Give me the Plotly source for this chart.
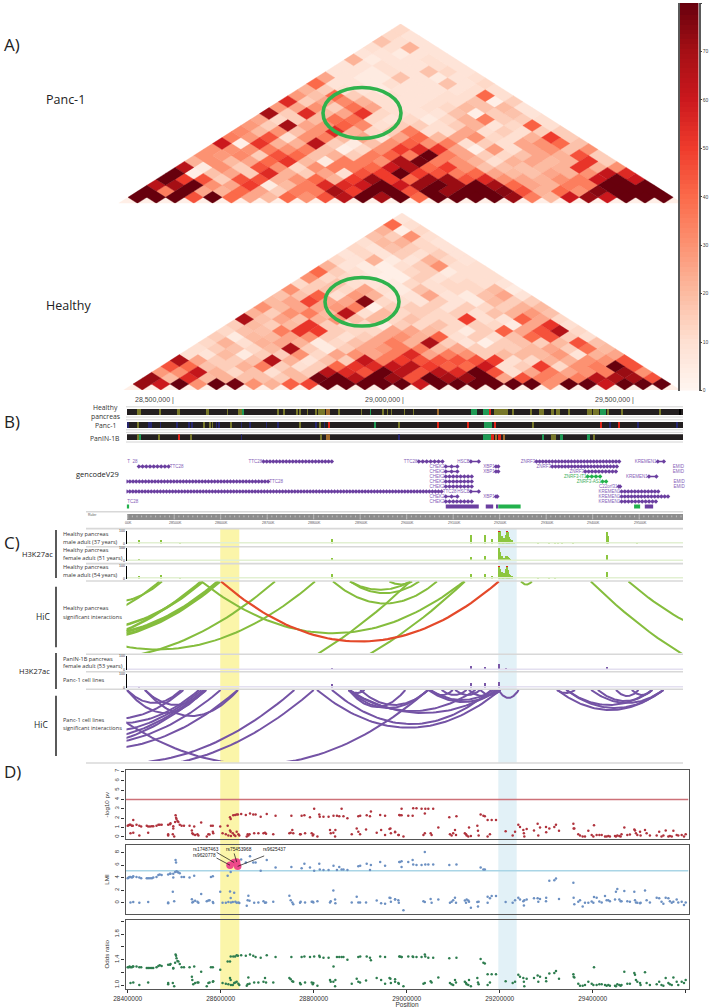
import math
import plotly.graph_objects as go
from plotly.colors import sample_colorscale

W, H = 709, 1008

# ---------- Hi-C contact values, rows from the main diagonal upwards ----------
panc_rows = [
 [80,80,80,45,80,40,25,20,40,30,45,65,80,70,80,40,80,80,80,80,72,35,20,60,72,60,80,80,80],
 [80,35,80,25,22,40,25,15,35,35,70,50,80,80,45,80,72,80,80,75,45,22,40,30,75,80,80,80],
 [65,70,80,30,25,50,5,20,35,55,55,60,80,60,72,80,72,80,70,40,25,22,35,35,80,80,80],
 [80,50,45,15,45,45,22,30,40,22,50,72,50,40,72,72,45,55,30,25,22,30,35,60,80,60],
 [80,3,18,25,15,55,22,15,25,10,45,50,80,50,45,35,40,25,20,18,25,22,30,62,55],
 [65,5,30,15,45,30,12,30,35,35,40,60,68,40,50,30,18,18,18,20,22,52,22,30],
 [22,30,20,25,40,52,20,5,35,35,30,68,78,35,30,22,10,22,25,20,22,52,15],
 [30,28,32,15,45,40,18,22,15,35,42,35,80,35,25,15,12,18,25,22,45,15],
 [30,30,30,35,30,35,18,3,12,30,50,55,52,25,3,28,10,25,30,18,30],
 [60,3,52,22,22,65,15,5,18,30,42,30,35,10,15,10,25,30,40,18],
 [35,28,45,10,30,35,20,25,8,25,40,20,25,30,12,10,22,50,15],
 [32,20,30,18,30,55,22,12,15,35,10,10,25,10,15,10,15,15],
 [28,15,70,25,30,42,32,10,15,15,10,15,22,8,12,42,10],
 [25,12,15,20,38,38,12,8,12,5,12,22,35,15,15,10],
 [70,15,55,20,25,52,12,10,8,8,18,3,15,18,8],
 [28,25,30,15,38,25,10,8,10,12,20,18,20,8],
 [55,15,25,32,22,10,8,8,10,10,18,3,15],
 [28,18,40,15,10,10,8,8,10,10,40,10],
 [22,15,10,8,5,8,8,8,8,10,10],
 [40,8,8,5,10,8,8,18,8,12],
 [25,8,5,5,18,8,5,8,10],
 [8,8,5,10,8,18,12,8],
 [8,8,10,8,8,10,8],
 [22,5,8,8,10,8],
 [8,8,5,8,8],
 [10,10,22,8],
 [18,10,8],
 [12,8],
 [12],
]
healthy_rows = [
 [72,60,80,30,80,78,30,22,42,48,80,80,80,80,80,60,80,80,80,80,80,80,30,80,80,60,80,80,80],
 [72,20,55,20,22,18,18,15,20,78,80,65,80,72,45,80,70,72,80,25,45,35,30,35,65,68,70,45],
 [28,30,62,22,12,18,10,20,15,65,55,45,80,65,45,65,55,80,45,10,25,35,25,30,35,72,30],
 [45,40,18,15,22,35,15,10,15,40,52,55,62,65,50,42,40,60,10,15,50,12,30,35,80,45],
 [68,25,15,15,18,66,22,8,18,15,62,35,50,45,45,45,45,50,10,12,22,22,30,30,45],
 [10,8,20,5,15,15,30,12,25,30,25,35,55,25,35,30,15,20,20,20,28,8,22,25],
 [10,15,18,12,20,68,15,5,15,25,28,35,35,20,25,15,15,15,20,25,15,38,20],
 [12,22,10,22,25,22,5,12,18,25,35,22,68,15,8,3,15,18,15,20,45,18],
 [15,5,20,20,25,30,15,10,15,25,30,22,42,10,15,10,18,40,45,15,10],
 [12,18,18,35,52,50,15,12,12,25,25,20,12,5,15,42,25,45,66,12],
 [15,20,15,20,52,15,12,12,5,15,12,18,12,15,12,5,25,52,10],
 [68,18,25,18,22,30,18,20,12,18,12,12,50,10,8,42,25,12],
 [22,15,30,35,20,65,10,20,12,15,12,15,10,18,22,28,18],
 [30,20,25,25,28,35,3,15,15,15,8,15,12,15,22,20],
 [20,25,48,25,25,75,12,10,8,15,8,5,20,15,15],
 [18,18,42,10,28,22,8,8,25,8,5,18,25,8],
 [30,15,18,12,25,10,5,18,10,12,12,20,5],
 [12,15,18,10,8,5,12,10,12,12,10,8],
 [30,12,12,8,3,3,15,8,10,10,10],
 [40,15,10,5,3,12,15,5,10,10],
 [22,8,5,3,10,15,30,10,10],
 [12,8,22,5,8,22,12,8],
 [8,12,8,15,10,15,8],
 [12,8,18,15,12,8],
 [10,20,22,12,8],
 [18,15,30,10],
 [22,3,12],
 [40,10],
 [8],
]
diagonal_value = 3
contact_ticks = [0, 10, 20, 30, 40, 50, 60, 70, 80]
contact_scale_levels = list(range(0, 81))

# ---------- ChromHMM state segments: (start kb, end kb) ----------
OLIVE, BLUE, RED, GREEN, ORNG = "#77772a", "#26266e", "#e02418", "#1f9a55", "#a06a2c"
healthy_state_start = [28419,28467,28504,28568,28613,28638,28642,28646,28722,28735,28763,28769,28785,28803,28810,28814,28817,28821,28826,28853,28901,28921,28948,28957,28966,28994,29013,29065,29138,29163,29177,29187,29226,29265,29284,29310,29320,29345,29387,29400,29415,29431,29460,29543,29586]
healthy_state_end   = [28428,28469,28511,28574,28614,28639,28643,28647,28723,28736,28764,28770,28786,28804,28811,28815,28818,28822,28834,28854,28902,28922,28949,28958,28967,28995,29014,29067,29150,29175,29181,29216,29228,29268,29294,29315,29328,29350,29398,29412,29428,29434,29462,29545,29588]
healthy_state_col   = [OLIVE]*7+[GREEN]+[OLIVE]*10+[ORNG]+[OLIVE]*2+[GREEN]+[OLIVE]*5+[ORNG,GREEN,GREEN,RED]+[OLIVE]*8+[OLIVE,GREEN,OLIVE,OLIVE,OLIVE]
panc_state_start = [28399,28419,28444,28449,28469,28505,28530,28537,28562,28575,28581,28589,28595,28620,28643,28662,28697,28722,28769,28803,28812,28822,28830,28930,28982,29065,29129,29166,29187,29270,29416,29435,29455,29495,29580]
panc_state_end   = [28400,28423,28445,28450,28470,28506,28531,28538,28563,28576,28582,28590,28596,28621,28644,28663,28698,28723,28770,28804,28813,28823,28834,28932,28984,29068,29132,29182,29191,29272,29419,29437,29458,29497,29582]
panc_state_col   = [BLUE,OLIVE,BLUE,BLUE,BLUE,BLUE,BLUE,BLUE,OLIVE,OLIVE,OLIVE,BLUE,BLUE,OLIVE,BLUE,BLUE,BLUE,BLUE,OLIVE,BLUE,OLIVE,BLUE,RED,GREEN,OLIVE,RED,RED,GREEN,RED,OLIVE,RED,BLUE,RED,BLUE,BLUE]
panin_state_start = [28419,28425,28466,28509,28534,28643,28814,28826,28982,29163,29182,29190,29197,29205,29290,29310,29328,29387,29400]
panin_state_end   = [28424,28428,28468,28510,28535,28644,28815,28834,28984,29182,29186,29193,29201,29211,29294,29320,29336,29393,29402]
panin_state_col   = [OLIVE,GREEN,OLIVE,RED,OLIVE,BLUE,OLIVE,ORNG,BLUE,GREEN,RED,ORNG,RED,ORNG,GREEN,OLIVE,GREEN,GREEN,OLIVE]

# ---------- Genes: row, start kb, end kb, label, label side ----------
gene_row   = [0,0,0,0,0, 1,1,1,1, 2,2,2, 3,3,3, 4,4,4, 5,5, 6,6,6, 7,7,7, 8,8]
gene_start = [28692,29026,29138,29279,29540, 28424,29084,29192,29313, 29084,29192,29384, 29084,29389,29521, 28398,29084,29421, 29084,29456, 28398,29138,29462, 29084,29192,29462, 29084,29462]
gene_end   = [28839,29077,29155,29457,29553, 28488,29109,29197,29452, 29109,29197,29450, 29140,29416,29537, 28702,29140,29429, 29140,29459, 29075,29155,29541, 29109,29195,29562, 29140,29536]
gene_name  = ["TTC28","TTC28","HSCB","ZNRF3","KREMEN1", "TTC28","CHEK2","XBP1","ZNRF3", "CHEK2","XBP1","ZNRF3", "CHEK2","ZNRF3-IT1","KREMEN1", "TTC28","CHEK2","ZNRF3-AS1", "CHEK2","C22orf31", "TTC28","HSCB","KREMEN1", "CHEK2","XBP1","KREMEN1", "CHEK2","KREMEN1"]
gene_side  = ["l","l","l","l","l", "r","l","l","l", "l","l","l", "l","l","l", "r","l","l", "l","l", "r","l","l", "l","l","l", "l","l"]
label_only_row  = [0, 8, 1, 2, 4, 5]
label_only_kb   = [28399, 28399, 29572, 29572, 29574, 29574]
label_only_text = ["T  28", "TC28", "EMID", "EMID", "EMID", "EMID"]
block_start = [28398,29084,29170,29192,29197,29489,29512]
block_end   = [28403,29155,29186,29197,29245,29502,29530]
block_col   = ["#22b14c","#6b3fa0","#6b3fa0","#6b3fa0","#22b14c","#22b14c","#6b3fa0"]
gene_green  = {"ZNRF3-IT1", "ZNRF3-AS1"}
ruler_labels = ["00K","28500K","28600K","28700K","28800K","28900K","29000K","29100K","29200K","29300K","29400K","29500K"]

# ---------- H3K27ac signal peaks: position kb, signal ----------
h1_pos = [28424,28471,28511,28839,29138,29168,29182,29197,29200,29203,29206,29209,29212,29214,29216,29219,29222,29225,29230,29281,29304,29318,29325,29333,29357,29429,29431,29494]
h1_val = [25,30,15,40,70,70,40,100,100,60,40,45,70,100,90,50,40,25,15,15,12,12,15,12,10,95,60,15]
h2_pos = [28424,28839,29138,29168,29197,29200,29203,29206,29209,29212,29214,29216,29219,29222,29281,29318,29429]
h2_val = [15,25,30,35,100,70,40,25,25,35,40,30,20,12,5,6,50]
h3_pos = [28424,28471,28511,28839,29138,29168,29182,29197,29200,29203,29206,29209,29212,29214,29216,29219,29222,29225,29281,29304,29318,29429]
h3_val = [18,30,8,35,40,40,20,100,80,50,40,45,80,100,70,40,30,20,8,8,10,55]
clip_pos = [29197,29214]
panin_pos = [28424,28511,28560,28839,28950,29138,29168,29197,29212,29300,29429]
panin_val = [5,5,4,15,4,30,25,45,15,5,25]
pancl_pos = [28424,28839,29138,29168,29197]
pancl_val = [5,25,35,30,40]

# ---------- Significant interactions: start kb, end kb, depth ----------
hic_h_start = [28271.6,28082.4,28088.8,27919,28009.3,28056.6,27938.4,28125.4,28050,27912.6,28558.6,28841.4,28878,28878,28962.8,29245.6,29396,29476.9]
hic_h_end   = [28473.7,28468.3,28561.9,28557.6,28597.8,28594,28716.7,28802.7,29125,29007.6,29123,29065,29007.6,29027,29011.8,29269.2,30471,30122]
hic_h_depth = [20.3,39,47.5,64,59,54,78,68,118,122,51.7,22,8.3,11.7,3,3,122,65]
hic_h_width = [2,2,2.5,2.5,3,3,2,2,2,2,2,2,2,2,2,2,2,2]
hic_red_start, hic_red_end, hic_red_depth = [28600.6], [29198], [60]
hic_p_start = [28398,28437,28398,28437,28232.9,28224.3,28137.2,28078,28002.9,28060.9,28050,28035,28035,28303.9,28807,28839,28875,28875,28875,28875,28877,28900,29046,29050.7,29050.7,29075,29104,29133.5,29158,29197,29323.4,29343,29343,29396.5,29411,29450,29484,29323]
hic_p_end   = [28515,28569,28564,28637,28519.7,28553,28558.6,28564,28568,28599.7,28636.7,28758.4,28800,29045.6,29201.6,29182,29197,29148,29046,28997,28909.5,29046,29197,29187,29099.4,29129,29158,29192,29201.6,29240.7,29552,29528,29552,29552,29528,29498.7,29528,29362]
hic_p_depth = [13,15,23,26,28.7,33,42,49,57,54,59,73,77,74.5,37.7,34,23,21,18,17,3,15,12,10,5,5,5,6,5,8,20,15,18,13,11,6,5,3]

# ---------- GWAS SNPs: position kb, -log10 p, LMI, odds ratio ----------
snp_kb = [
 28400,28402,28404,28406,28409,28411,28412,28419,28425,28429,28441,28444,28448,28452,28455,28462,28466,28469,28473,28487,28491,28492,28498,28498,28502,28503,28504,28505,28507,28509,28512,28516,28521,28533,28543,28579,28583,28599,28615,
 28620,28621.5,28627,28631,28634.4,28637,28644,28654,28663,28670,28675,28686,28699,28718,28752,28774,28780,28792,28801,28812,28813,28821,28832,28842.6,28850,28855,28860,28864,28872.5,28896,28900,28914,28921,28923,28943,28953.5,28984,
 28985.5,28989,28989,29003.4,29012.8,29014,29021,29032,29039,29040,29046.5,29057,29091.6,29107,29159,29165,29168,29174,29182.7,29192,
 28406,28412,28425,28444,28487,28487,28500,28497,28538,28539,28541,28545,28550,28552,28558,28570,28573.5,28576,28583,28584,28604,28611,28616.5,28620,28621.5,28622,28626,28629,28631.5,28634.4,28638,28640,28656,28658,28659.5,28662,28672,28681,28692,28695.3,28697.5,28713,28747.7,28750.5,28754,28756,28770.6,28772,28781.4,28795.7,28798,28799.3,28808,28835,28836.6,28842.3,28846,28846.6,28881.8,28892.5,28896,28899.7,28912.6,28935.5,28945,28953.5,28963,28975,28982,
 28965,28966,28975,28983,28993,29036,29039,29051.5,29053.6,29068,29093,29096.6,29100,29103.8,29106,29125,29127.5,29129,29132.5,29134,29138,29151.9,29153.3,29154.7,29174,29179,29212.8,29227.9,29233,29240,29243.6,29250.8,29252,29253,29258,29273.7,29281.6,29283,29286.7,29299.6,29300,29306.7,29317.5,29321,29327.5,29358.4,29359,29360.5,29369,29372.7,29378.4,29383.4,29390.6,29397.8,29401.4,29402.8,29408.5,29414.3,29419.3,29426.5,29430,29433.6,29437,29448,29450,29453,29457.3,29460,29462,29468,29474.5,29480,29489.5,29491,29493,29496,29501.8,29503,29512.5,29516,29523,29537.6,29543,29548,29552,29557,29562.7,29566,29570,29573.5,29580.6,29584,29591.4,29596.4,29600,
]
snp_logp = [
 1.2,1.25,1.3,1.3,1.2,1.2,1.8,1.3,1.2,1.1,1.2,1.1,1.1,1.15,1.15,1.2,1.3,1.3,1.3,1.3,1.35,1.45,1.15,0.9,1.6,2.3,2.05,1.9,1.7,1.6,1.3,1.2,1.2,1.2,1.1,1.2,1.2,1.1,1.2,
 2.1,1.9,2.3,2.35,2.4,2.4,2.45,2.35,2.5,2.4,2.4,2.15,2.45,2.25,2.25,2.25,2.3,2.1,3.0,2.4,2.15,2.15,2.15,2.25,2.25,2.2,3.0,2.2,2.0,2.2,2.25,2.3,2.2,2.7,2.35,2.25,2.35,
 2.3,2.3,3.0,2.25,2.25,3.05,3.05,3.0,2.5,3.0,3.0,3.0,2.1,2.2,2.4,2.25,2.2,1.8,1.8,1.8,
 0.4,0.45,0.15,0.45,0.15,0.3,0.05,0.3,0.7,0.4,0.3,0.2,0.3,0.15,1.55,0.05,0.3,0.25,0.55,0.4,0.4,0.3,0.15,0.7,0.55,0.1,0.4,0.2,0.1,0.55,0.3,0.15,0.05,0.3,0.15,0.3,0.4,0.4,0.4,0.45,0.35,0.3,0.4,0.45,0.75,0.4,0.3,0.3,0.4,0.4,0.15,0.25,0.05,0.75,0.4,0.45,0.05,0.75,0.3,0.9,0.55,0.3,0.8,0.45,0.75,0.2,0.85,0.5,0.2,
 0.9,0.4,0.55,0.2,0.05,0.2,0.4,0.4,0.2,1.0,0.3,0.15,0.4,0.75,0.2,0.4,0.3,0.15,0.05,1.0,0.1,1.2,0.65,0.15,0.05,0.3,0.6,0.15,0.55,1.3,1.05,0.75,0.4,0.05,0.85,0.7,1.4,0.15,1.0,1.05,0.5,0.9,1.05,1.3,0.65,1.4,0.9,0.9,0.3,0.15,0.05,0.05,0.65,0.2,0.05,1.25,0.2,0.2,0.2,0.05,0.05,0.1,0.05,0.1,0.05,0.15,0.1,0.05,0.3,1.0,0.2,0.25,0.8,0.7,0.4,0.2,0.55,0.15,0.75,0.4,0.15,0.15,0.55,0.05,0.15,0.7,0.05,0.1,0.05,0.65,0.2,0.15,0.2,0.05,0.3,
]
snp_lmi = [
 3.9,4.0,4.1,4.1,4.0,4.1,4.2,4.1,4.0,3.9,3.9,3.9,3.9,3.9,4.0,4.1,4.4,4.5,4.4,4.5,4.6,4.6,4.0,4.6,4.9,6.8,6.4,5.0,4.9,4.8,4.7,4.1,4.1,4.0,4.3,4.1,4.2,1.75,4.3,
 6.0,4.9,6.2,6.5,6.5,5.8,6.9,6.4,7.4,6.4,6.4,5.1,6.8,5.6,5.7,5.5,6.2,5.6,5.1,6.2,5.3,5.2,5.2,5.9,5.2,5.7,5.3,5.3,5.2,5.8,5.9,6.2,5.2,6.0,6.5,5.9,6.5,
 6.5,6.6,5.7,6.5,6.8,6.1,6.0,6.0,8.1,6.1,6.1,6.1,6.0,6.1,5.6,5.3,5.3,0.95,1.05,1.05,
 0.05,0.1,0,0.1,0.05,-0.1,0.25,1.75,0.55,0.05,0.15,0.3,0.15,0,1.4,0.25,0.35,0.4,0.1,-0.05,0,0,0.1,1.8,0.75,0.05,0.1,1.6,0.15,0,0.05,-0.05,-0.5,0.4,1.1,0.3,0,0.05,0.25,0,0.05,0.15,1.1,0.4,0.05,-0.25,0,0.15,0.05,0.15,0.15,0.05,0.25,0.05,0.25,1.95,0.5,-0.1,0.05,0.95,0.05,0.05,0.05,0.35,-0.1,-0.15,0.8,0.55,0.4,
 0.75,0.15,0.5,0,-1.2,0.25,0.1,0.6,0,0.5,0,0.15,0.4,0.8,0,0.35,0,0.5,0.35,0.15,-0.8,0.1,-0.6,0.15,0,0.7,0.1,0,0.4,0.8,0.5,0.25,-0.45,0.4,0.5,0.7,0.7,0.15,0.6,0.25,0.8,3.5,3.6,3.85,0.6,3.2,0.8,-0.25,0.15,0.4,-0.6,0,0,0.2,0,0.9,0.8,0.2,0.05,1.05,0.4,0.4,0.25,0.5,1.75,2.2,0.5,0.25,0.25,1.85,0.25,0.15,1.75,0.4,0.05,0,-0.1,0,1.95,0.4,0.05,0.8,0.7,0.15,-0.15,0.8,0.7,0.25,0,0.15,0.5,0.05,0.15,-0.35,0.05,
]
snp_or = [
 1.28,1.28,1.29,1.28,1.28,1.29,1.29,1.29,1.28,1.28,1.27,1.27,1.27,1.27,1.27,1.28,1.3,1.31,1.3,1.32,1.32,1.33,1.27,1.26,1.35,1.48,1.46,1.42,1.38,1.37,1.33,1.28,1.28,1.28,1.29,1.28,1.28,1.24,1.37,
 1.37,1.45,1.45,1.45,1.47,1.46,1.47,1.46,1.48,1.46,1.44,1.43,1.47,1.44,1.44,1.44,1.45,1.44,1.45,1.46,1.44,1.43,1.43,1.29,1.44,1.44,1.44,1.44,1.4,1.44,1.45,1.45,1.43,1.39,1.45,1.44,1.45,
 1.45,1.44,1.44,1.45,1.45,1.44,1.44,1.44,1.48,1.45,1.43,1.43,1.42,1.43,1.41,1.35,1.34,1.17,1.17,1.17,
 1.03,1.04,1.0,1.04,1.01,1.03,0.98,1.03,1.13,1.08,1.01,1.03,1.04,1.04,1.21,0.98,1.03,1.04,1.05,1.06,1.03,1.02,1.01,1.11,1.08,1.0,1.0,1.03,1.04,1.05,1.02,1.0,0.99,1.01,1.12,1.02,1.04,1.04,1.05,1.11,1.04,1.04,1.11,1.09,1.06,1.05,1.03,1.01,1.04,1.04,1.01,1.03,0.99,1.08,1.05,1.05,0.98,1.08,1.02,1.1,1.05,1.04,1.07,1.11,1.08,1.02,1.11,1.05,1.03,
 1.1,1.03,1.09,1.02,0.98,1.02,1.03,1.06,1.04,1.12,1.03,1.01,1.0,1.08,1.04,1.05,1.03,1.01,1.0,1.08,0.98,1.11,1.04,1.01,1.0,1.04,1.06,1.03,1.05,1.16,1.13,1.11,1.05,0.98,1.1,1.11,1.15,1.05,1.13,1.11,1.06,1.18,1.19,1.22,1.1,1.17,1.13,1.12,1.02,0.99,0.99,1.0,1.05,1.02,1.0,1.28,1.0,1.01,1.01,1.0,0.99,1.0,0.99,0.99,0.98,1.01,1.0,0.99,1.0,1.21,1.02,1.02,1.19,1.16,1.08,1.05,1.03,1.0,1.2,1.03,1.0,1.01,1.05,1.0,0.99,1.11,1.03,1.01,1.0,1.12,1.05,1.0,1.05,1.03,1.08,
]
top_kb   = [28620, 28629, 28634.4, 28636.5]
top_lmi  = [5.98, 6.4, 6.5, 5.8]
logp_threshold, lmi_threshold = 4.0, 5.08
position_ticks = [28400000, 28600000, 28800000, 29000000, 29200000, 29400000, 29600000]
position_labels = ["28400000", "28600000", "28800000", "29000000", "29200000", "29400000", ""]

# ---------- helpers ----------
REDS = ["#fff5f0","#fee0d2","#fcbba1","#fc9272","#fb6a4a","#ef3b2c","#cb181d","#a50f15","#67000d"]
SCALE = [[i / 8, c] for i, c in enumerate(REDS)]
SANS, HELV = "Open Sans", "Liberation Sans"
def bp(v): return [x * 1000 for x in v]
def dom_x(a, b): return [a / W, b / W]
def dom_y(top, bottom): return [1 - bottom / H, 1 - top / H]

fig = go.Figure()
layout = {}
PX_PER_KB = 0.465
def px2bp(px): return (28400 + (px - 127.7) / PX_PER_KB) * 1000

layout["xaxis"] = dict(domain=dom_x(126.5, 683), range=[px2bp(126.5), px2bp(683)], visible=False, fixedrange=True)

axis_id = [1]
def new_y(top, bottom, **kw):
    axis_id[0] += 1
    n = axis_id[0]
    d = dict(domain=dom_y(top, bottom), anchor="x", visible=False, fixedrange=True)
    d.update(kw)
    layout[f"yaxis{n}"] = d
    return f"y{n}"

# ---------- Hi-C triangles ----------
def triangle(rows, xname, yname, left, spacing, bottom, hh):
    n = len(rows[0])
    nx, ny = xname[1:], yname[1:]
    layout[f"xaxis{nx}"] = dict(domain=dom_x(left - spacing, left + (n + 1) * spacing),
                                range=[-1.5, n - 0.5 + 1], visible=False, fixedrange=True, anchor=yname)
    layout[f"yaxis{ny}"] = dict(domain=dom_y(bottom - hh * 30, bottom), range=[-1, 29],
                                visible=False, fixedrange=True, anchor=xname)
    all_rows = [(-1, [diagonal_value] * (n + 1))] + list(enumerate(rows))
    groups = {}
    for r, row in all_rows:
        for c, v in enumerate(row):
            cx = c + r / 2
            g = groups.setdefault(v, ([], []))
            g[0].extend([cx - 0.5, cx, cx + 0.5, cx, cx - 0.5, None])
            g[1].extend([r, r + 1, r, r - 1, r, None])
    for v in sorted(groups):
        col = sample_colorscale(SCALE, [v / 80])[0]
        fig.add_trace(go.Scatter(x=groups[v][0], y=groups[v][1], mode="lines", fill="toself",
                                 fillcolor=col, line=dict(color=col, width=0.4),
                                 xaxis=xname, yaxis=yname, hoverinfo="skip", showlegend=False))

triangle(panc_rows, "x20", "y20", 128, 18.8, 203.3, 5.98)
triangle(healthy_rows, "x21", "y21", 133, 18.55, 390, 5.9)

# colour key drawn as its own small heatmap so it keeps its exact place
layout["xaxis22"] = dict(domain=dom_x(680, 698.5), range=[-0.5, 0.5], visible=False, fixedrange=True, anchor="y22")
layout["yaxis22"] = dict(domain=dom_y(3, 390.5), range=[0, 80], side="right", anchor="x22", fixedrange=True,
                         tickvals=contact_ticks, ticks="outside", ticklen=1.5, tickwidth=0.7, tickcolor="#444",
                         tickfont=dict(size=5, color="#444", family=HELV), showline=True, mirror=True,
                         linecolor="#5a5a5a", linewidth=1.5, zeroline=False, showgrid=False)
fig.add_trace(go.Heatmap(z=[[v] for v in contact_scale_levels], y=contact_scale_levels, x=[0], zmin=0, zmax=80,
                         colorscale=SCALE, showscale=False, xaxis="x22", yaxis="y22", hoverinfo="skip"))

# ---------- chromatin state tracks ----------
def state_track(top, bottom, starts, ends, cols):
    y = new_y(top, bottom, range=[0, 1])
    fig.add_trace(go.Bar(x=[px2bp(405)], y=[1], width=[px2bp(683) - px2bp(126.5)], marker=dict(color="#231f20", line_width=0),
                         xaxis="x", yaxis=y, hoverinfo="skip", showlegend=False))
    xs = [(a + b) / 2 * 1000 for a, b in zip(starts, ends)]
    ws = [max(b - a, 1.2) * 1000 for a, b in zip(starts, ends)]
    fig.add_trace(go.Bar(x=xs, y=[1] * len(xs), width=ws, marker=dict(color=cols, line_width=0),
                         xaxis="x", yaxis=y, hoverinfo="skip", showlegend=False))
state_track(409, 415.3, healthy_state_start, healthy_state_end, healthy_state_col)
state_track(421.7, 428, panc_state_start, panc_state_end, panc_state_col)
state_track(434.3, 440.7, panin_state_start, panin_state_end, panin_state_col)

# ---------- genes ----------
yg = new_y(459, 509, range=[9.5, -0.5])
for r, a, b, name, side in zip(gene_row, gene_start, gene_end, gene_name, gene_side):
    col = "#22b14c" if name in gene_green else "#6b3fa0"
    n_marks = max(2, int((b - a) / 6.5))
    xs = [(a + (b - a) * i / (n_marks - 1)) * 1000 for i in range(n_marks)]
    fig.add_trace(go.Scatter(x=xs, y=[r] * n_marks, mode="lines+markers", line=dict(color=col, width=1.6),
                             marker=dict(symbol="diamond", size=3.4, color=col, line_width=0),
                             xaxis="x", yaxis=yg, hoverinfo="skip", showlegend=False))
    tx = (a - 2.5 if side == "l" else b + 2.5) * 1000
    fig.add_trace(go.Scatter(x=[tx], y=[r], mode="text", text=[name],
                             textposition="middle left" if side == "l" else "middle right",
                             textfont=dict(size=4.5, color="#3fae5a" if name in gene_green else "#8560b8", family=HELV),
                             xaxis="x", yaxis=yg, hoverinfo="skip", showlegend=False, cliponaxis=False))
fig.add_trace(go.Scatter(x=bp(label_only_kb), y=label_only_row, mode="text", text=label_only_text,
                         textposition="middle right", textfont=dict(size=4.5, color="#8560b8", family=HELV),
                         xaxis="x", yaxis=yg, hoverinfo="skip", showlegend=False, cliponaxis=False))
for a, b, col in zip(block_start, block_end, block_col):
    fig.add_trace(go.Scatter(x=[a * 1000, b * 1000], y=[9, 9], mode="lines", line=dict(color=col, width=4),
                             xaxis="x", yaxis=yg, hoverinfo="skip", showlegend=False))

# ---------- ruler ----------
yr = new_y(514, 520, range=[0, 1])
fig.add_trace(go.Bar(x=[px2bp(405)], y=[1], width=[px2bp(683) - px2bp(126.5)], marker=dict(color="#8c8c8c", line_width=0),
                     xaxis="x", yaxis=yr, hoverinfo="skip", showlegend=False))
tx, ty = [], []
for k in range(28400, 29600, 10):
    tx += [k * 1000, k * 1000, None]
    ty += [0.45 if k % 100 else 0.1, 0.75 if k % 100 else 0.95, None]
fig.add_trace(go.Scatter(x=tx, y=ty, mode="lines", line=dict(color="#e0e0e0", width=0.6), xaxis="x", yaxis=yr,
                         hoverinfo="skip", showlegend=False))

# ---------- H3K27ac tracks ----------
def signal_track(top, bottom, pos, val, col, band, clip=None):
    y = new_y(top, bottom, range=[0, 100], visible=True, showgrid=False, zeroline=False, showline=True,
              linecolor="#000", linewidth=0.7, ticks="inside", ticklen=2, tickwidth=0.6, tickvals=[0, 100],
              tickfont=dict(size=3.5, color="#333", family=HELV))
    fig.add_trace(go.Scatter(x=[px2bp(126.5), px2bp(683)], y=[0, 0], mode="lines", line=dict(color=band, width=3),
                             xaxis="x", yaxis=y, hoverinfo="skip", showlegend=False))
    fig.add_trace(go.Bar(x=bp(pos), y=val, width=2400, marker=dict(color=col, line_width=0), xaxis="x", yaxis=y,
                         hoverinfo="skip", showlegend=False))
    if clip:
        fig.add_trace(go.Bar(x=bp(clip), y=[8] * len(clip), base=[92] * len(clip), width=2000,
                             marker=dict(color="#e2231a", line_width=0), xaxis="x", yaxis=y,
                             hoverinfo="skip", showlegend=False))
GRN, PUR = "#8cc63f", "#7a58a8"
signal_track(531, 543.5, h1_pos, h1_val, GRN, "#e2f0d2", clip_pos)
signal_track(548, 561, h2_pos, h2_val, GRN, "#e2f0d2")
signal_track(566, 578.5, h3_pos, h3_val, GRN, "#e2f0d2", clip_pos)
signal_track(656, 670, panin_pos, panin_val, PUR, "#e3dff0")
signal_track(674, 687.5, pancl_pos, pancl_val, PUR, "#e3dff0")

# ---------- interaction arcs ----------
STEPS = [i / 60 for i in range(61)]
def arc(y, a, b, depth, col, width):
    fig.add_trace(go.Scatter(x=[(a + (b - a) * t) * 1000 for t in STEPS],
                             y=[4 * depth * t * (1 - t) for t in STEPS], mode="lines",
                             line=dict(color=col, width=width), xaxis="x", yaxis=y,
                             hoverinfo="skip", showlegend=False))
ya = new_y(581.5, 653, range=[71.5, 0])
for a, b, d, w in zip(hic_h_start, hic_h_end, hic_h_depth, hic_h_width):
    arc(ya, a, b, d, "#85bd3d", w)
for a, b, d in zip(hic_red_start, hic_red_end, hic_red_depth):
    arc(ya, a, b, d, "#e4492a", 2.2)
yb = new_y(690, 761, range=[71, 0])
for a, b, d in zip(hic_p_start, hic_p_end, hic_p_depth):
    arc(yb, a, b, d, "#7453a5", 2)

# ---------- GWAS panels ----------
GX0, GX1 = 125.5, 688.5
def gwas_axes(n, top, bottom, yrange, yticks, ylabels, title, xlabels=False):
    layout[f"xaxis{n}"] = dict(domain=dom_x(GX0, GX1), range=[px2bp(GX0), px2bp(GX1)], anchor=f"y{n}",
        showline=True, mirror=True, linecolor="#555", linewidth=1.2, showgrid=False, zeroline=False, fixedrange=True,
        ticks="outside" if xlabels else "", tickvals=position_ticks, ticktext=position_labels, ticklen=3, tickwidth=0.8,
        tickcolor="#333", showticklabels=xlabels, tickfont=dict(size=6.5, color="#333", family=HELV))
    layout[f"yaxis{n}"] = dict(domain=dom_y(top, bottom), range=yrange, anchor=f"x{n}", showline=True, mirror=True,
        linecolor="#555", linewidth=1.2, showgrid=False, zeroline=False, fixedrange=True, ticks="outside",
        tickvals=yticks, ticktext=ylabels, ticklen=3, tickwidth=0.8, tickcolor="#333", tickangle=-90,
        tickfont=dict(size=6, color="#333", family=HELV),
        title=dict(text=title, standoff=3, font=dict(size=6.2, color="#333", family=HELV)))

gwas_axes(30, 770, 839.3, [-0.25, 7.13], list(range(8)), [str(i) for i in range(8)], "-log10 pv")
gwas_axes(31, 845, 914, [-1.8, 9.2], [0, 2, 4, 6, 8], ["0", "2", "4", "6", "8"], "LMI")
gwas_axes(32, 919.7, 988.8, [0.94, 2.03], [1.0, 1.2, 1.4, 1.6, 1.8, 2.0], ["1.0", "", "1.4", "", "1.8", ""], "Odds ratio", True)
layout["xaxis32"]["title"] = dict(text="Position", standoff=1, font=dict(size=6.5, color="#333", family=HELV))

def points(n, y, col):
    fig.add_trace(go.Scatter(x=bp(snp_kb), y=y, mode="markers", marker=dict(size=2.5, color=col, line_width=0),
                             xaxis=f"x{n}", yaxis=f"y{n}", hoverinfo="skip", showlegend=False))
def hline(n, value, col):
    fig.add_trace(go.Scatter(x=[px2bp(GX0), px2bp(GX1)], y=[value, value], mode="lines", line=dict(color=col, width=1.5),
                             xaxis=f"x{n}", yaxis=f"y{n}", hoverinfo="skip", showlegend=False))
hline(30, logp_threshold, "#cd7178")
points(30, snp_logp, "#b0333d")
hline(31, lmi_threshold, "#a9d5e6")
points(31, snp_lmi, "#6c90c2")
points(32, snp_or, "#2e7d4f")
fig.add_trace(go.Scatter(x=bp(top_kb), y=top_lmi, mode="markers", marker=dict(size=7.5, color="#ee4a8b", line_width=0),
                         xaxis="x31", yaxis="y31", hoverinfo="skip", showlegend=False))

# ---------- shapes ----------
shapes = []
YEL, BLU = "#fbf5a9", "#e2f1f7"
for kb0, kb1, col in [(28599, 28640, YEL), (29197, 29236.5, BLU)]:
    for y0, y1 in [(529, 763), (769, 990)]:
        shapes.append(dict(type="rect", xref="x", yref="paper", x0=kb0 * 1000, x1=kb1 * 1000,
                           y0=1 - y1 / H, y1=1 - y0 / H, fillcolor=col, line_width=0, layer="below"))
def px_line(x0, y0, x1, y1, col, w):
    shapes.append(dict(type="line", xref="paper", yref="paper", x0=x0 / W, x1=x1 / W, y0=1 - y0 / H, y1=1 - y1 / H,
                       line=dict(color=col, width=w), layer="below"))
for y in [511.7, 528.6, 546.7, 563.6, 581, 654.3, 671.7, 689.3, 763]:
    px_line(86, y, 683, y, "#d8d8d8", 1.6)
for y0, y1 in [(530, 578), (586.7, 647.3), (653, 689), (695.7, 756)]:
    px_line(56, y0, 56, y1, "#000", 1.3)
for y in [406.8, 417, 419.8, 429.8, 432.4, 442]:
    px_line(126, y, 683, y, "#cfcfcf", 0.9)
def ellipse(x0, y0, x1, y1):
    shapes.append(dict(type="circle", xref="paper", yref="paper", x0=x0 / W, x1=x1 / W, y0=1 - y1 / H, y1=1 - y0 / H,
                       line=dict(color="#2fb24c", width=3.6), layer="above"))
ellipse(323, 87.5, 401, 138.5)
ellipse(325, 277.5, 399, 326)

# ---------- text ----------
ann = []
def text(t, x, y, size, family=SANS, color="#222", anchor="left", angle=0):
    ann.append(dict(text=t, xref="paper", yref="paper", x=x / W, y=1 - y / H, showarrow=False, xanchor=anchor,
                    yanchor="middle", align="left", font=dict(size=size, family=family, color=color), textangle=angle))
for t, y in [("A)", 45), ("B)", 421), ("C)", 542), ("D)", 771)]:
    text(t, 2, y, 17)
text("Panc-1", 44, 100, 12.5)
text("Healthy", 44, 305, 12.5)
for t, x, y in [("28,500,000 |", 133, 400), ("29,000,000 |", 363, 400), ("29,500,000 |", 593, 400)]:
    text(t, x, y, 7, HELV, "#444")
for t, y in [("Healthy", 407), ("pancreas", 416), ("Panc-1", 425), ("PanIN-1B", 438)]:
    text(t, 105, y, 6.8, SANS, "#333", "center")
text("gencodeV29", 74, 474, 7.5)
text("Ruler", 86, 515, 3.5, HELV, "#555")
for t, k in zip(ruler_labels, range(28400, 29600, 100)):
    ann.append(dict(text=t, xref="x", yref="paper", x=(k + 2) * 1000, y=1 - 523 / H, showarrow=False, xanchor="center",
                    yanchor="middle", font=dict(size=3.6, family=HELV, color="#555")))
text("H3K27ac", 20, 554, 7.5)
text("HiC", 34, 616.7, 8.5)
text("H3K27ac", 17, 670.7, 7.5)
text("HiC", 32, 724, 8.5)
for t, y in [("Healthy pancreas", 534), ("male adult (37 years)", 541.7), ("Healthy pancreas", 550), ("female adult (51 years)", 557.7),
             ("Healthy pancreas", 567.3), ("male adult (54 years)", 575), ("Healthy pancreas", 608), ("significant interactions", 616.7),
             ("PanIN-1B pancreas", 659), ("female adult (53 years)", 666), ("Panc-1 cell lines", 680),
             ("Panc-1 cell lines", 720), ("significant interactions", 728)]:
    text(t, 61, y, 5.6, SANS, "#333")
text("rs17487463", 191, 849, 4.8, HELV)
text("rs9620778", 191, 855.7, 4.8, HELV)
text("rs75453968", 224.3, 849, 4.8, HELV)
text("rs9625437", 261, 849, 4.8, HELV)
for k, v, dx, dy in zip([28629, 28620, 28634.4, 28636.5], [6.4, 5.98, 6.5, 5.8], [-19, -15, -3, 28], [-11, -8, -10, -11]):
    ann.append(dict(text="", xref="x31", yref="y31", x=k * 1000, y=v, ax=dx, ay=dy, axref="pixel", ayref="pixel",
                    showarrow=True, arrowhead=0, arrowwidth=0.7, arrowcolor="#111"))

fig.update_layout(template="none", width=W, height=H, margin=dict(l=0, r=0, t=0, b=0, pad=0), autosize=False, paper_bgcolor="white",
                  plot_bgcolor="rgba(0,0,0,0)", barmode="overlay", showlegend=False, shapes=shapes, annotations=ann,
                  bargap=0, **layout)
fig.write_html("out.html", post_script="document.body.style.margin='0';document.documentElement.style.overflow='hidden';",
               config={"displayModeBar": False})
